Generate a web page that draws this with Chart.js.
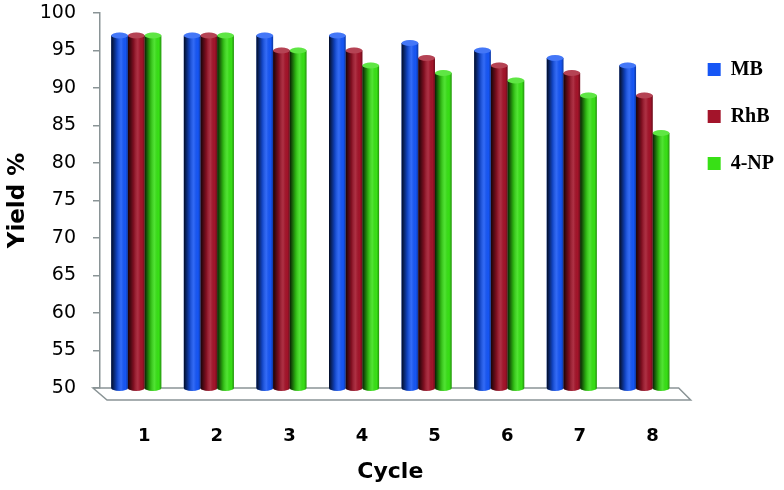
<!DOCTYPE html>
<html>
<head>
<meta charset="utf-8">
<script src="https://cdn.jsdelivr.net/npm/chart.js@4.4.1/dist/chart.umd.min.js"></script>
<style>
  html, body { margin: 0; padding: 0; background: #fff; }
  #wrap { width: 784px; height: 490px; }
</style>
</head>
<body>
<div id="wrap"><canvas id="chart" width="784" height="490"></canvas></div>
<script>
// cycles and yields
const cycles = ['1', '2', '3', '4', '5', '6', '7', '8'];
const mbYield = [97, 97, 97, 97, 96, 95, 94, 93];
const rhbYield = [97, 97, 95, 95, 94, 93, 92, 89];
const npYield = [97, 97, 95, 93, 92, 91, 89, 84];
const yTicks = [50, 55, 60, 65, 70, 75, 80, 85, 90, 95, 100];

// cylinder shading + 3d floor, drawn from the chart's own element positions
const cylinders = {
    id: 'cylinders',
    beforeDatasetsDraw: function (chart) {
        const a = chart.chartArea;
        const ctx = chart.ctx;
        const d = 12;
        ctx.save();
        ctx.strokeStyle = '#8a9496';
        ctx.lineWidth = 1.5;
        ctx.beginPath();
        ctx.moveTo(a.left - 7, a.bottom);
        ctx.lineTo(a.right - 2, a.bottom);
        ctx.lineTo(a.right + d - 2, a.bottom + d);
        ctx.lineTo(a.left + 7, a.bottom + d);
        ctx.closePath();
        ctx.stroke();
        ctx.restore();
    },
    afterDatasetsDraw: function (chart) {
        const ctx = chart.ctx;
        const a = chart.chartArea;
        chart.data.datasets.forEach(function (ds, i) {
            const meta = chart.getDatasetMeta(i);
            meta.data.forEach(function (bar) {
                const w = bar.width;
                const left = bar.x - w / 2;
                const base = Math.min(bar.base, a.bottom);
                const g = ctx.createLinearGradient(left, 0, left + w, 0);
                g.addColorStop(0, 'rgba(0,0,0,0.85)');
                g.addColorStop(0.35, 'rgba(0,0,0,0.2)');
                g.addColorStop(0.6, 'rgba(255,255,255,0.12)');
                g.addColorStop(0.85, 'rgba(0,0,0,0)');
                g.addColorStop(1, 'rgba(0,0,0,0.35)');
                ctx.save();
                ctx.fillStyle = g;
                ctx.fillRect(left, bar.y, w, base - bar.y);
                // bottom cap
                ctx.beginPath();
                ctx.ellipse(bar.x, base, w / 2, 3, 0, 0, Math.PI);
                ctx.fillStyle = ds.backgroundColor;
                ctx.fill();
                ctx.fillStyle = g;
                ctx.fill();
                // top cap
                ctx.beginPath();
                ctx.ellipse(bar.x, bar.y, w / 2, 3, 0, 0, Math.PI * 2);
                ctx.fillStyle = ds.backgroundColor;
                ctx.fill();
                ctx.fillStyle = 'rgba(255,255,255,0.2)';
                ctx.fill();
                ctx.restore();
            });
        });
    }
};

new Chart(document.getElementById('chart'), {
    type: 'bar',
    data: {
        labels: cycles,
        datasets: [
            { label: 'MB', data: mbYield, backgroundColor: '#1656f5' },
            { label: 'RhB', data: rhbYield, backgroundColor: '#a3142a' },
            { label: '4-NP', data: npYield, backgroundColor: '#38e016' }
        ]
    },
    options: {
        responsive: false,
        animation: false,
        layout: { padding: { top: 13, right: 0, bottom: 5, left: 4 } },
        datasets: {
            bar: { categoryPercentage: 0.69, barPercentage: 1.0, borderWidth: 0 }
        },
        plugins: {
            legend: {
                position: 'right',
                align: 'start',
                title: { display: true, text: ' ', padding: { top: 0, bottom: 5 } },
                labels: {
                    boxWidth: 13,
                    boxHeight: 13,
                    padding: 27,
                    color: '#000',
                    font: { family: 'Liberation Serif', weight: 'bold', size: 20 }
                }
            },
            tooltip: { enabled: false }
        },
        scales: {
            x: {
                afterFit: function (s) { s.height = 97; },
                grid: { display: false },
                border: { display: false },
                ticks: {
                    color: '#000',
                    padding: 30,
                    labelOffset: 8,
                    font: { family: 'DejaVu Sans', weight: 'bold', size: 18 }
                },
                title: {
                    display: true,
                    text: 'Cycle',
                    color: '#000',
                    padding: { top: 16, bottom: 0 },
                    font: { family: 'DejaVu Sans', weight: 'bold', size: 22 }
                }
            },
            y: {
                min: 50,
                max: 100,
                afterBuildTicks: function (s) {
                    s.ticks = yTicks.map(function (v) { return { value: v }; });
                },
                afterFit: function (s) {
                    s.width = 96;
                    s.paddingTop = 0;
                    s.paddingBottom = 0;
                },
                grid: { drawOnChartArea: false, color: '#8a9496', tickLength: 7, lineWidth: 1.5 },
                border: { display: true, color: '#8a9496', width: 1.5 },
                ticks: {
                    color: '#000',
                    padding: 17,
                    font: { family: 'DejaVu Sans', size: 19 }
                },
                title: {
                    display: true,
                    text: 'Yield %',
                    color: '#000',
                    padding: { top: 0, bottom: 4 },
                    font: { family: 'DejaVu Sans', weight: 'bold', size: 23 }
                }
            }
        }
    },
    plugins: [cylinders]
});
</script>
</body>
</html>
